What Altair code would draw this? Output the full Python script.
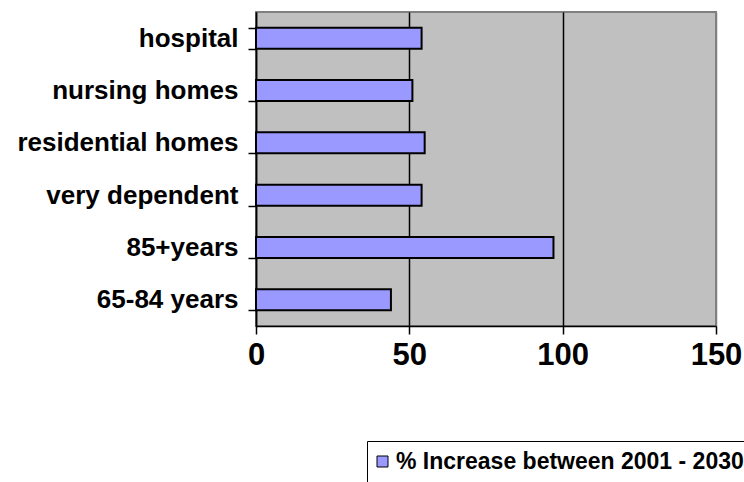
import altair as alt
import pandas as pd

categories = ["hospital", "nursing homes", "residential homes", "very dependent", "85+years", "65-84 years"]
values = [54, 51, 55, 54, 97, 44]
series_name = "% Increase between 2001 - 2030"
x_ticks = [0, 50, 100, 150]

df = pd.DataFrame({"category": categories, "value": values, "series": [series_name] * len(categories)})

FONT = "Liberation Sans"

chart = alt.Chart(df).mark_bar(
    fill="#9999FF", stroke="black", strokeWidth=2
).encode(
    y=alt.Y("category:N", sort=categories,
            scale=alt.Scale(paddingInner=0.6, paddingOuter=0.3),
            axis=alt.Axis(title=None, tickBand="extent", tickSize=8, tickColor="black",
                          domainColor="black", domainWidth=1.5, tickWidth=1.5,
                          labelFont=FONT, labelFontSize=26, labelFontWeight="bold",
                          labelColor="black", labelPadding=10, labelLimit=0, grid=False)),
    x=alt.X("value:Q", scale=alt.Scale(domain=[0, 150], nice=False),
            axis=alt.Axis(title=None, values=x_ticks, tickSize=8, tickColor="black",
                          tickWidth=1.5, domainColor="black", domainWidth=1.5,
                          labelFont=FONT, labelFontSize=31, labelFontWeight="bold",
                          labelColor="black", labelPadding=6, labelFlush=False,
                          grid=True,
                          gridColor={"condition": {"test": "datum.value === 150", "value": "#808080"}, "value": "black"},
                          gridWidth=1.5)),
    color=alt.Color("series:N", scale=alt.Scale(range=["#9999FF"]),
                    legend=alt.Legend(title=None, orient="none", legendX=111, legendY=429,
                                      symbolType="square", symbolSize=121, symbolStrokeColor="black",
                                      symbolStrokeWidth=1, symbolFillColor="#9999FF",
                                      symbolOffset=-5,
                                      labelFont=FONT, labelFontSize=23, labelFontWeight="bold",
                                      labelColor="black", labelLimit=0,
                                      strokeColor="black", fillColor="white", padding=9,
                                      labelOffset=2)),
).properties(
    width=460, height=314,
    background="white",
    autosize=alt.AutoSizeParams(type="none"),
    padding={"left": 256, "top": 12, "right": 28, "bottom": 156},
).configure_view(
    fill="#C0C0C0", stroke="#808080", strokeWidth=2
)

chart.save("out.html", embed_options={"renderer": "svg", "actions": False})
